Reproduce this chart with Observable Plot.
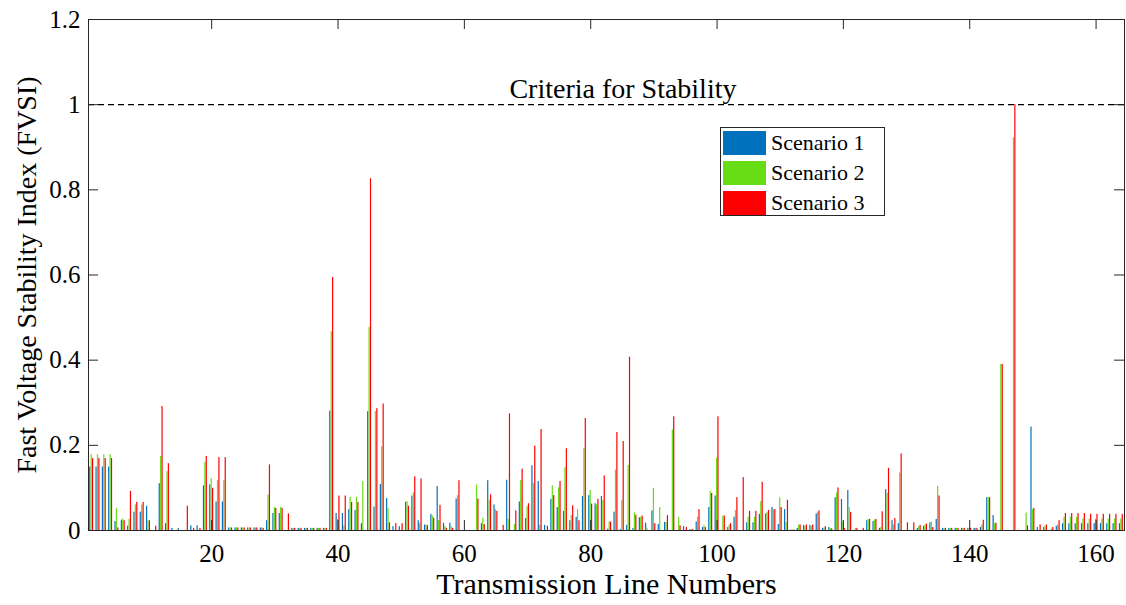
<!DOCTYPE html>
<html><head><meta charset="utf-8">
<script src="https://cdn.jsdelivr.net/npm/d3@7"></script>
<script src="https://cdn.jsdelivr.net/npm/@observablehq/plot@0.6"></script>
<style>
body{margin:0;background:#fff;}
#wrap{position:relative;width:1126px;height:605px;font-family:"Liberation Serif","Times New Roman",serif;}
#wrap svg text{font-family:"Liberation Serif","Times New Roman",serif;}
#legend{position:absolute;left:720px;top:127px;width:165px;height:89px;border:1px solid #262626;background:#fff;box-sizing:border-box;}
.row{position:absolute;left:2px;height:24px;display:flex;align-items:center;}
.sw{width:43px;height:24px;margin-right:5px;}
.lab{font-size:22px;color:#000;white-space:nowrap;}
</style></head><body><div id="wrap"></div>
<script>
const seriesNames = ["Scenario 1", "Scenario 2", "Scenario 3"];
const seriesColors = ["#0072BD", "#66DD14", "#FF0000"];
const xTicks = [20, 40, 60, 80, 100, 120, 140, 160];
const yTicks = [0, 0.2, 0.4, 0.6, 0.8, 1, 1.2];
const criteriaLabel = "Criteria for Stability";
const criteriaValue = 1;
const xLabel = "Transmission Line Numbers";
const yLabel = "Fast Voltage Stability Index (FVSI)";

const s1 = [
0.149,0.149,0.149,0.149,0.021,0.024,0.010,0.043,0.043,0.057,
0,0.110,0.016,0.005,0.005,0,0.011,0.011,0.105,0.107,
0.067,0.067,0.006,0.006,0.006,0.006,0.006,0.006,0.023,0.040,
0.040,0,0.005,0.005,0.005,0.005,0.005,0.005,0.280,0.040,
0.040,0.049,0.047,0.016,0.279,0.055,0.108,0.075,0.009,0.009,
0.066,0.081,0.023,0.013,0.038,0.103,0.017,0.017,0.074,0,
0,0,0.016,0.117,0.060,0,0.118,0,0.067,0.028,
0.152,0.115,0.012,0.073,0.054,0.045,0.023,0.031,0.080,0.082,
0.063,0.080,0.003,0.043,0.002,0.012,0.005,0.030,0.017,0.046,
0.014,0.019,0,0,0.009,0.002,0.020,0.007,0.054,0.081,
0,0.007,0.031,0,0.018,0.018,0.038,0.039,0.054,0.014,
0.049,0.001,0.005,0.012,0.012,0.039,0.005,0.007,0.077,0.073,
0.094,0,0,0.023,0.021,0.005,0.096,0.023,0.016,0,
0,0.005,0.010,0.018,0.026,0.005,0.005,0.005,0.005,0.005,
0.005,0.007,0.077,0.035,0,0,0,0,0,0.243,
0.007,0.007,0,0.010,0.016,0.016,0.016,0.016,0.016,0.016,
0.016,0.016,0.016,0.016];

const s2 = [
0.178,0.178,0.178,0.178,0.052,0.027,0.026,0.060,0.060,0.023,
0,0.174,0.138,0,0,0,0,0,0.160,0.122,
0.117,0.117,0.006,0.006,0.006,0.006,0.006,0.006,0.083,0.054,
0.054,0,0.005,0.005,0.005,0.005,0.005,0.005,0.467,0.026,
0.011,0.078,0.078,0.115,0.477,0.279,0.197,0.052,0,0,
0.068,0.088,0.016,0.012,0.034,0.023,0.010,0.009,0.082,0,
0,0.107,0.029,0.071,0.049,0,0.026,0.014,0.117,0.056,
0.110,0.012,0,0.105,0.100,0.147,0.035,0.049,0.192,0.094,
0.060,0.070,0.020,0.142,0.071,0.153,0.041,0.031,0.004,0.099,
0.054,0.019,0.236,0.031,0,0.002,0.031,0.012,0.092,0.170,
0.034,0.013,0.047,0,0.031,0.031,0.068,0.043,0.049,0.077,
0.019,0.001,0.013,0.010,0.010,0.043,0.006,0.005,0.088,0.020,
0.054,0.005,0,0.026,0.025,0.007,0.087,0.013,0.135,0,
0,0.009,0.013,0.020,0.104,0.005,0.005,0.005,0.005,0.005,
0.005,0.013,0.077,0.017,0.390,0,0.922,0,0.041,0.049,
0,0.010,0.003,0.013,0.031,0.031,0.031,0.027,0.027,0.027,
0.027,0.027,0.027,0.027];

const s3 = [
0.169,0.169,0.169,0.169,0.006,0.023,0.092,0.066,0.066,0.023,
0.010,0.291,0.157,0,0,0.057,0.005,0.005,0.174,0.099,
0.171,0.171,0.006,0.006,0.006,0.006,0.006,0.005,0.154,0.052,
0.052,0.039,0.005,0.005,0.005,0.005,0.005,0.005,0.594,0.081,
0.081,0.066,0.066,0,0.826,0.286,0.297,0.018,0.016,0.016,
0.057,0.126,0.121,0.012,0.029,0.059,0.005,0.005,0.117,0,
0,0.074,0.014,0.084,0.045,0.012,0.274,0.046,0.144,0.063,
0.198,0.237,0.010,0.082,0.115,0.192,0.058,0.023,0.263,0.062,
0.073,0.128,0.020,0.230,0.209,0.407,0.036,0.034,0,0.016,
0,0.035,0.267,0.011,0.007,0.002,0.049,0.007,0.087,0.267,
0.034,0.016,0.077,0.124,0.045,0.045,0.113,0.047,0.049,0.054,
0.071,0.001,0.013,0.013,0.013,0.046,0.009,0.004,0.100,0.005,
0.042,0.005,0.005,0.026,0.026,0.044,0.146,0.028,0.180,0.018,
0.018,0.012,0.015,0.007,0.081,0.005,0.005,0.005,0.005,0.005,
0.005,0.024,0.077,0.017,0.390,0,1.000,0,0.011,0.052,
0.013,0.013,0.007,0.023,0.040,0.040,0.040,0.040,0.038,0.038,
0.038,0.038,0.038,0.038];

const lineNumbers = s1.map((_, i) => i + 1);
const allSeries = [s1, s2, s3];

// grouped-bar geometry (MATLAB style): 3 bars per group
const groupWidth = 0.667;
const barSlot = groupWidth / 3;
const barWidth = barSlot * 0.85;

const rows = [];
allSeries.forEach((vals, si) => {
  vals.forEach((v, i) => {
    rows.push({n: lineNumbers[i], s: seriesNames[si], si, v});
  });
});

const W = 1126, H = 605, mL = 88, mR = 2, mT = 19, mB = 75;
const frameW = W - mL - mR, frameH = H - mT - mB;
const tickLen = 10;
const axisColor = "#262626";
const serif = "Liberation Serif";

const chart = Plot.plot({
  width: W, height: H,
  marginLeft: mL, marginRight: mR, marginTop: mT, marginBottom: mB,
  style: {fontFamily: serif, color: "#000", background: "#fff", overflow: "visible"},
  x: {domain: [0.5, lineNumbers.length + 0.5], axis: null},
  y: {domain: [0, 1.2], axis: null},
  color: {domain: seriesNames, range: seriesColors},
  marks: [
    Plot.rect(rows, {
      x1: d => d.n + (d.si - 1) * barSlot - barWidth / 2,
      x2: d => d.n + (d.si - 1) * barSlot + barWidth / 2,
      y1: 0, y2: "v",
      fill: "s"
    }),
    Plot.ruleY([criteriaValue], {stroke: "#000", strokeWidth: 1.2, strokeDasharray: "6,4"}),
    Plot.text([criteriaLabel], {x: 85.1, y: criteriaValue, dy: -16, fontSize: 28, fontFamily: serif, fill: "#000"}),
    Plot.frame({stroke: axisColor, strokeWidth: 1}),
    Plot.ruleX(xTicks, {x: d => d, insetTop: frameH - tickLen, stroke: axisColor}),
    Plot.ruleX(xTicks, {x: d => d, insetBottom: frameH - tickLen, stroke: axisColor}),
    Plot.ruleY(yTicks, {y: d => d, insetRight: frameW - tickLen, stroke: axisColor}),
    Plot.ruleY(yTicks, {y: d => d, insetLeft: frameW - tickLen, stroke: axisColor}),
    Plot.axisX({ticks: xTicks, tickSize: 0, tickPadding: 14, fontSize: 25, fontFamily: serif, label: null}),
    Plot.axisY({ticks: yTicks, tickSize: 0, tickPadding: 8, fontSize: 25, fontFamily: serif, label: null, tickFormat: d3.format("~g")}),
    Plot.text([xLabel], {frameAnchor: "bottom", dy: 63, fontSize: 30, fontFamily: serif, fill: "#000"}),
    Plot.text([yLabel], {frameAnchor: "left", textAnchor: "middle", dx: -61, rotate: -90, fontSize: 28, fontFamily: serif, fill: "#000"})
  ]
});

const wrap = document.getElementById("wrap");
wrap.appendChild(chart);

const legend = document.createElement("div");
legend.id = "legend";
seriesNames.forEach((name, i) => {
  const row = document.createElement("div");
  row.className = "row";
  row.style.top = (3 + i * 30) + "px";
  const sw = document.createElement("div");
  sw.className = "sw";
  sw.style.background = seriesColors[i];
  const lab = document.createElement("span");
  lab.className = "lab";
  lab.textContent = name;
  row.appendChild(sw); row.appendChild(lab);
  legend.appendChild(row);
});
wrap.appendChild(legend);
</script></body></html>
